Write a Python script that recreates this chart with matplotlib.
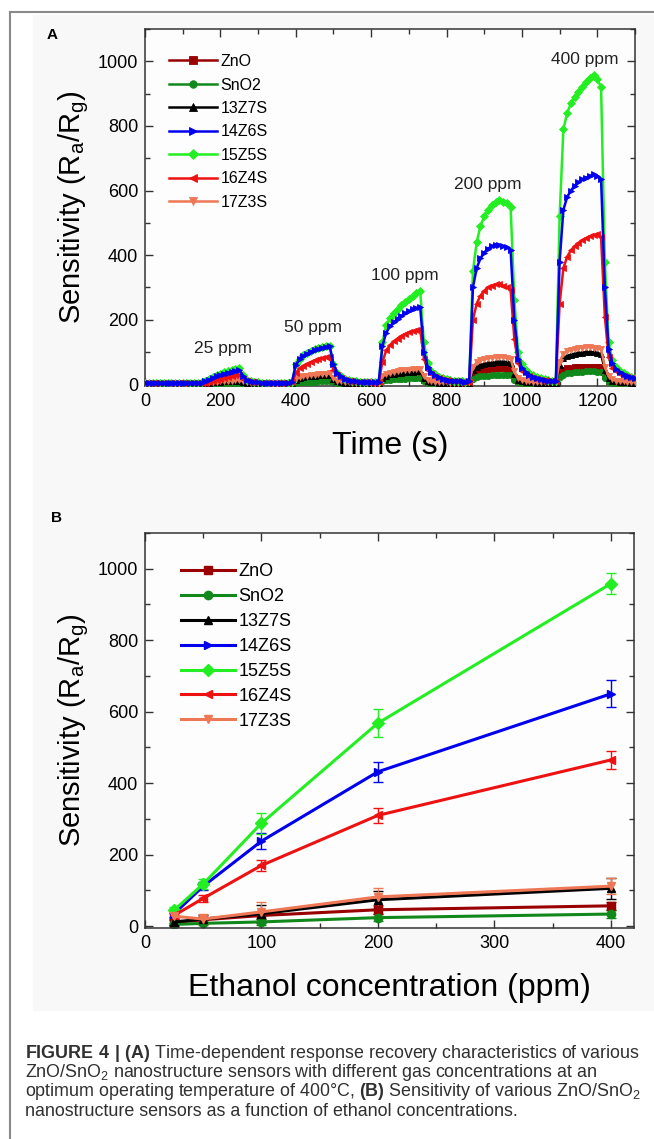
import matplotlib
matplotlib.use("Agg")
import matplotlib.pyplot as plt
from matplotlib.lines import Line2D
from matplotlib.patches import Rectangle
from matplotlib.ticker import MultipleLocator

plt.rcParams['font.family'] = ['Liberation Sans', 'DejaVu Sans']
plt.rcParams['mathtext.fontset'] = 'custom'
plt.rcParams['mathtext.rm'] = 'Liberation Sans'
plt.rcParams['mathtext.bf'] = 'Liberation Sans:bold'
plt.rcParams['mathtext.default'] = 'regular'

# ---- panel A: response vs time (sampled every 10 s) ----
time_s = list(range(0, 1301, 10))

zno_t = [2, 2, 2, 2, 2, 2, 2, 2, 2, 2, 2, 2, 2, 2, 2,
         2, 3, 4, 5, 6, 7, 7, 8, 9, 9, 10, 6, 4, 3, 2, 2,
         2, 2, 2, 2, 2, 2, 2, 2,
         3, 10, 13, 15, 16, 17, 18, 19, 19, 20, 20, 11, 6, 4, 3, 3, 3, 2, 2, 2, 2, 2, 2,
         3, 15, 20, 23, 25, 26, 27, 28, 29, 29, 30, 30, 15, 8, 5, 4, 4, 3, 3, 3, 3, 3, 3, 3,
         4, 32, 40, 44, 46, 48, 49, 50, 50, 50, 49, 48, 24, 11, 7, 5, 5, 4, 4, 4, 4, 4, 4, 4,
         35, 46, 50, 52, 53, 54, 55, 55, 55, 55, 54, 53, 26, 12, 7, 5, 5, 4, 4, 4, 4]
sno2_t = [1, 1, 1, 1, 1, 1, 1, 1, 1, 1, 1, 1, 1, 1, 1,
          1, 1, 2, 2, 3, 3, 3, 4, 4, 5, 5, 3, 2, 1, 1, 1,
          1, 1, 1, 1, 1, 1, 1, 1,
          1, 5, 6, 7, 7, 8, 8, 9, 9, 10, 10, 6, 3, 2, 2, 1, 1, 1, 1, 1, 1, 1, 1,
          2, 10, 13, 15, 16, 17, 18, 18, 19, 19, 20, 20, 10, 5, 3, 2, 2, 2, 2, 2, 2, 2, 2, 2,
          2, 18, 22, 25, 26, 27, 28, 29, 30, 30, 30, 29, 15, 7, 4, 3, 3, 3, 2, 2, 2, 2, 2, 2,
          22, 30, 34, 36, 37, 38, 39, 40, 40, 40, 39, 38, 19, 8, 5, 4, 3, 3, 3, 2, 2]
z13_t = [3, 3, 3, 3, 3, 3, 3, 3, 3, 3, 3, 3, 3, 3, 3,
         3, 4, 5, 6, 7, 8, 9, 10, 11, 12, 12, 8, 5, 4, 3, 3,
         3, 3, 3, 3, 3, 3, 3, 3,
         4, 15, 20, 23, 25, 26, 27, 28, 29, 30, 30, 17, 10, 7, 5, 4, 4, 4, 3, 3, 3, 3, 3,
         4, 20, 27, 31, 33, 35, 36, 37, 38, 39, 40, 40, 20, 11, 8, 6, 5, 5, 4, 4, 4, 4, 4, 4,
         5, 45, 55, 60, 63, 65, 67, 68, 70, 70, 69, 67, 32, 15, 10, 8, 7, 6, 5, 5, 5, 5, 5, 5,
         60, 82, 88, 92, 95, 97, 98, 100, 100, 99, 97, 94, 45, 20, 12, 9, 7, 6, 6, 5, 5]
z14_t = [5, 5, 5, 5, 5, 5, 5, 5, 5, 5, 5, 5, 5, 5, 5,
         5, 10, 15, 20, 25, 29, 33, 36, 39, 42, 45, 27, 14, 9, 7, 6,
         5, 5, 5, 5, 5, 5, 5, 5,
         8, 60, 78, 88, 95, 101, 106, 110, 113, 116, 118, 62, 36, 25, 18, 14, 11, 9, 8, 7, 6, 6, 6,
         7, 120, 160, 180, 192, 203, 212, 220, 226, 232, 236, 240, 100, 55, 38, 28, 22, 18, 15, 12, 11, 10, 9, 8,
         10, 300, 360, 390, 408, 420, 428, 432, 432, 428, 425, 415, 200, 80, 52, 38, 30, 24, 20, 17, 14, 12, 11, 10,
         380, 540, 580, 600, 615, 625, 635, 640, 645, 650, 645, 635, 300, 110, 65, 48, 38, 31, 26, 22, 20]
z15_t = [5, 5, 5, 5, 5, 5, 5, 5, 5, 5, 5, 5, 5, 5, 5,
         6, 12, 18, 23, 28, 33, 37, 41, 44, 47, 50, 28, 14, 9, 7, 6,
         5, 5, 5, 5, 5, 5, 5, 5,
         8, 62, 80, 90, 97, 103, 108, 112, 115, 118, 120, 62, 36, 25, 18, 14, 11, 9, 8, 7, 6, 6, 6,
         7, 130, 185, 205, 220, 233, 245, 255, 265, 274, 282, 290, 130, 65, 42, 31, 24, 19, 16, 13, 11, 10, 9, 8,
         10, 350, 440, 490, 520, 540, 555, 565, 570, 566, 560, 550, 260, 100, 62, 45, 35, 28, 23, 19, 16, 14, 12, 11,
         520, 790, 840, 870, 890, 905, 920, 935, 948, 958, 945, 920, 380, 130, 75, 55, 42, 34, 28, 24, 21]
z16_t = [5, 5, 5, 5, 5, 5, 5, 5, 5, 5, 5, 5, 5, 5, 5,
         5, 5, 8, 12, 15, 18, 21, 24, 26, 28, 30, 18, 10, 7, 6, 5,
         5, 5, 5, 5, 5, 5, 5, 5,
         6, 35, 50, 58, 64, 69, 74, 78, 81, 84, 86, 45, 28, 20, 15, 12, 10, 8, 7, 6, 6, 5, 5,
         6, 70, 105, 122, 133, 142, 150, 156, 161, 165, 168, 170, 80, 45, 32, 24, 19, 15, 13, 11, 10, 9, 8, 7,
         8, 200, 250, 275, 290, 300, 306, 310, 310, 306, 300, 292, 140, 65, 42, 32, 25, 21, 17, 15, 13, 11, 10, 9,
         250, 360, 395, 415, 428, 438, 446, 452, 458, 463, 465, 455, 210, 85, 52, 40, 32, 27, 23, 20, 18]
z17_t = [4, 4, 4, 4, 4, 4, 4, 4, 4, 4, 4, 4, 4, 4, 4,
         4, 5, 6, 7, 8, 9, 10, 11, 12, 13, 14, 9, 6, 5, 4, 4,
         4, 4, 4, 4, 4, 4, 4, 4,
         5, 18, 22, 25, 27, 29, 30, 31, 32, 33, 34, 20, 12, 9, 7, 6, 5, 5, 5, 4, 4, 4, 4,
         5, 25, 32, 36, 39, 41, 43, 45, 46, 47, 48, 48, 25, 14, 10, 8, 7, 6, 6, 5, 5, 5, 5, 5,
         6, 55, 68, 74, 78, 81, 83, 85, 85, 84, 82, 80, 40, 20, 14, 11, 9, 8, 7, 7, 6, 6, 6, 6,
         70, 95, 103, 107, 110, 112, 114, 115, 115, 114, 112, 108, 55, 25, 16, 12, 10, 9, 8, 8, 7]

pulse_labels = ['25 ppm', '50 ppm', '100 ppm', '200 ppm', '400 ppm']
pulse_label_x = [207, 446, 690, 910, 1167]
pulse_label_y = [110, 175, 336, 620, 1006]

# ---- panel B: sensitivity vs concentration ----
conc = [25, 50, 100, 200, 400]
zno_b = [10, 18, 30, 46, 57]
sno2_b = [5, 8, 12, 24, 34]
z13_b = [12, 20, 35, 74, 106]
z14_b = [35, 112, 238, 432, 650]
z15_b = [45, 118, 288, 568, 958]
z16_b = [30, 78, 170, 310, 465]
z17_b = [28, 20, 40, 82, 112]
zno_err = [6, 8, 10, 12, 12]
sno2_err = [4, 5, 8, 10, 10]
z13_err = [8, 12, 25, 25, 30]
z14_err = [8, 12, 22, 28, 38]
z15_err = [8, 15, 30, 40, 30]
z16_err = [6, 10, 15, 20, 25]
z17_err = [8, 15, 27, 25, 22]

names = ['ZnO', 'SnO2', '13Z7S', '14Z6S', '15Z5S', '16Z4S', '17Z3S']
colors = ['#990000', '#11881a', '#000000', '#0000ee', '#22ee22', '#ee1111', '#ee7755']
markers = ['s', 'o', '^', '>', 'D', '<', 'v']
zorders = [3, 3, 3, 6, 4, 5, 3]

series_t = [zno_t, sno2_t, z13_t, z14_t, z15_t, z16_t, z17_t]
series_b = [zno_b, sno2_b, z13_b, z14_b, z15_b, z16_b, z17_b]
errs_b = [zno_err, sno2_err, z13_err, z14_err, z15_err, z16_err, z17_err]

W, H = 654, 1139
fig = plt.figure(figsize=(W / 100, H / 100), dpi=100)

# light image background and page frame
fig.add_artist(Rectangle((33 / W, 1 - 1010 / H), (W - 33) / W, (1010 - 15) / H,
                         transform=fig.transFigure, color='#f8f8f8', zorder=-10))
fig.add_artist(Line2D([10 / W, 10 / W], [0, 1 - 12 / H], transform=fig.transFigure,
                      color='#8a8a8a', lw=1.5))
fig.add_artist(Line2D([10 / W, 1], [1 - 12 / H, 1 - 12 / H], transform=fig.transFigure,
                      color='#8a8a8a', lw=1.5))


def style_axes(ax):
    ax.set_facecolor('#fdfdfd')
    for s in ax.spines.values():
        s.set_linewidth(1.1)
        s.set_color('#333333')
    ax.tick_params(which='both', direction='in', top=True, right=True,
                   labelsize=13, color='#333333', width=1.0)
    ax.tick_params(which='major', length=6, pad=5)
    ax.tick_params(which='minor', length=3.5)


# panel A
axA = fig.add_axes([145 / W, 1 - 386 / H, 490 / W, (386 - 29) / H])
for name, y, c, m, z in zip(names, series_t, colors, markers, zorders):
    axA.plot(time_s, y, color=c, marker=m, markersize=4.5, markeredgewidth=0.6,
             lw=1.8, label=name, zorder=z)
for lab, x, y in zip(pulse_labels, pulse_label_x, pulse_label_y):
    axA.text(x, y, lab, fontsize=12.5, ha='center', va='center', color='#222222')
axA.set_xlim(0, 1300)
axA.set_ylim(-5, 1100)
axA.xaxis.set_major_locator(MultipleLocator(200))
axA.xaxis.set_minor_locator(MultipleLocator(100))
axA.yaxis.set_major_locator(MultipleLocator(200))
axA.yaxis.set_minor_locator(MultipleLocator(100))
style_axes(axA)
axA.set_xlabel('Time (s)', fontsize=23)
axA.xaxis.set_label_coords(0.5, -0.125)
axA.set_ylabel(r'Sensitivity (R$_\mathrm{a}$/R$_\mathrm{g}$)', fontsize=21)
axA.yaxis.set_label_coords(-0.11, 0.5)
axA.legend(loc='upper left', bbox_to_anchor=(0.02, 0.97), frameon=False,
           fontsize=11.5, handlelength=3.0, handletextpad=0.2,
           labelspacing=0.53, markerscale=1.2)
fig.text(52 / W, 1 - 35 / H, 'A', fontsize=11, fontweight='bold', ha='center', va='center')

# panel B
axB = fig.add_axes([145 / W, 1 - 928 / H, 489 / W, (928 - 533) / H])
lines_b = []
for name, y, e, c, m in zip(names, series_b, errs_b, colors, markers):
    cont = axB.errorbar(conc, y, yerr=e, color=c, marker=m, markersize=6, lw=2.2,
                        elinewidth=1, capsize=3.5, capthick=1, label=name)
    lines_b.append(cont[0])
axB.set_xlim(0, 420)
axB.set_ylim(-5, 1100)
axB.xaxis.set_major_locator(MultipleLocator(100))
axB.xaxis.set_minor_locator(MultipleLocator(50))
axB.yaxis.set_major_locator(MultipleLocator(200))
axB.yaxis.set_minor_locator(MultipleLocator(100))
style_axes(axB)
axB.set_xlabel('Ethanol concentration (ppm)', fontsize=23)
axB.xaxis.set_label_coords(0.5, -0.115)
axB.set_ylabel(r'Sensitivity (R$_\mathrm{a}$/R$_\mathrm{g}$)', fontsize=21)
axB.yaxis.set_label_coords(-0.11, 0.5)
axB.legend(lines_b, names, loc='upper left', bbox_to_anchor=(0.04, 0.965), frameon=False,
           fontsize=13, handlelength=3.0, handletextpad=0.2, labelspacing=0.44)
fig.text(56 / W, 1 - 518 / H, 'B', fontsize=11, fontweight='bold', ha='center', va='center')

# caption
caption = [
    r'$\mathbf{FIGURE\ 4\ |\ (A)}$ Time-dependent response recovery characteristics of various',
    r'ZnO/SnO$_2$ nanostructure sensors with different gas concentrations at an',
    r'optimum operating temperature of 400°C, $\mathbf{(B)}$ Sensitivity of various ZnO/SnO$_2$',
    r'nanostructure sensors as a function of ethanol concentrations.',
]
for i, line in enumerate(caption):
    fig.text(25 / W, 1 - (1053 + 19.5 * i) / H, line, fontsize=12.9, color='#303030',
             ha='left', va='center')

fig.savefig('out.png', dpi=100)
